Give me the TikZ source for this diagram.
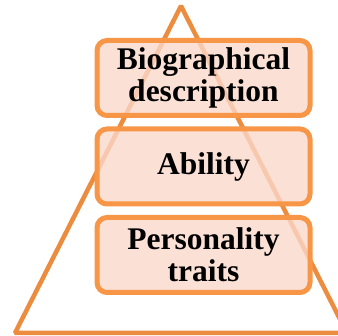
\documentclass[tikz,border=0pt]{standalone}
\usepackage{fontspec}
\setmainfont{Liberation Serif}
\definecolor{pyrline}{RGB}{236,140,62}
\definecolor{boxline}{RGB}{247,150,70}
\definecolor{pyrfill}{RGB}{250,216,202}

\tikzset{
    level/.style={draw=boxline, line width=5pt, fill=pyrfill, fill opacity=0.8,
        text opacity=1, rounded corners=10pt, minimum width=213pt,
        minimum height=75pt, inner sep=0pt, align=center,
        font=\fontsize{31.5}{32}\selectfont\bfseries},
}

\begin{document}
\begin{tikzpicture}[x=1pt, y=-1pt]
    \useasboundingbox (0,0) rectangle (338,336);

    % the pyramid behind the levels
    \coordinate (top) at (181,6);
    \coordinate (bl) at (15,333);
    \coordinate (br) at (347,333);
    \draw[pyrline, line width=4.5pt, line join=bevel] (top) -- (bl) -- (br) -- cycle;

    \node[level] (bio) at (203.5,78) {Biographical\\description};
    \node[level] (ability) at (203.5,166.5) {Ability};
    \node[level] (traits) at (203.5,255) {Personality\\traits};

\end{tikzpicture}
\end{document}
